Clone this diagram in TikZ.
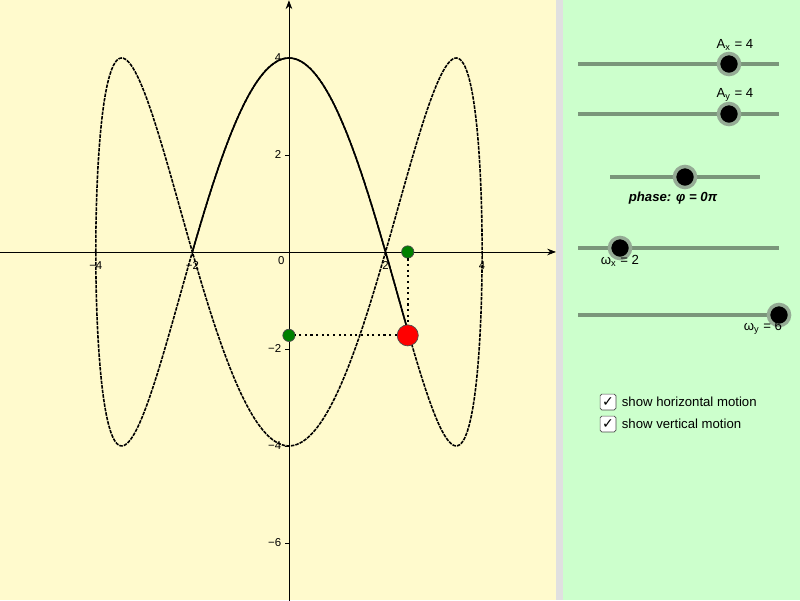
\documentclass[tikz,border=0pt]{standalone}
\usepackage{fontspec}
\setmainfont{Liberation Sans}
\newfontfamily\symfont{DejaVu Sans}
\usetikzlibrary{arrows.meta,positioning}
\definecolor{paneyellow}{HTML}{FFFACD}
\definecolor{panegreen}{HTML}{CCFFCC}
\definecolor{slidergray}{HTML}{7A967A}
\definecolor{dotgreen}{HTML}{008000}
\tikzstyle{track} = [draw=slidergray, line width=2pt]
\tikzstyle{knob} = [circle, fill=black, draw=slidergray!80, line width=2pt, inner sep=0pt, minimum size=12pt]
\tikzstyle{lbl} = [font=\fontsize{7.5}{9}\selectfont, inner sep=1pt]
\tikzstyle{tick} = [font=\fontsize{6.5}{7}\selectfont, inner sep=1pt]
\tikzstyle{tracepath} = [line width=0.9pt, dash pattern=on 2pt off 0.6pt]
\tikzstyle{check} = [draw=black!70, fill=white, rounded corners=1pt, minimum size=9pt, inner sep=0pt, font=\symfont\fontsize{8}{8}\selectfont]

\begin{document}
\begin{tikzpicture}[x=0.02cm,y=-0.02cm]
\useasboundingbox (0,0) rectangle (800,600);
\fill[paneyellow] (0,0) rectangle (556,600);
\fill[black!12] (556,0) rectangle (563,600);
\fill[panegreen] (563,0) rectangle (800,600);

% graph
\begin{scope}[shift={(5.78cm,-5.04cm)}, x=0.966cm, y=0.97cm]
\draw[-{Stealth[length=5pt]}] (-5.99,0) -- (5.53,0);
\draw[-{Stealth[length=5pt]}] (0,-7.3) -- (0,5.19);
\foreach \v/\t in {-4/−4,-2/−2,2/2,4/4}
  \draw (\v,0) -- (\v,-0.08) node[tick, below=2pt] {\t};
\foreach \v/\t in {-6/−6,-4/−4,-2/−2,2/2,4/4}
  \draw (0,\v) -- (-0.08,\v) node[tick, left=1pt] {\t};
\node[tick, below left=2pt] (o) at (0,0) {0};
\draw[tracepath] plot[domain=0:3.1416, samples=400, smooth] ({4*sin(2*\x r)}, {4*cos(6*\x r)});
\draw[line width=0.9pt] plot[domain=-0.262:0.3315, samples=100, smooth] ({4*sin(2*\x r)}, {4*cos(6*\x r)});
\node[circle, fill=red, draw=black!70, inner sep=0pt, minimum size=12pt] (p) at (2.46,-1.72) {};
\node[circle, fill=dotgreen, draw=black!70, inner sep=0pt, minimum size=7pt] (px) at (2.46,0) {};
\node[circle, fill=dotgreen, draw=black!70, inner sep=0pt, minimum size=7pt] (py) at (0,-1.72) {};
\draw[dotted, line width=1.2pt] (px) -- (p) -- (py);
\end{scope}

% sliders
\draw[track] (578,64) -- (779,64);
\node[knob] (ax) at (729,64) {};
\node[lbl] at (735,45) {A$_\mathrm{x}$ = 4};
\draw[track] (578,114) -- (779,114);
\node[knob] (ay) at (729,114) {};
\node[lbl] at (735,95) {A$_\mathrm{y}$ = 4};
\draw[track] (610,177) -- (760,177);
\node[knob] (ph) at (685,177) {};
\node[lbl, font=\fontsize{7.5}{9}\selectfont\bfseries\itshape] at (673,198) {phase: φ = 0π};
\draw[track] (578,248) -- (779,248);
\node[knob] (wx) at (620,248) {};
\node[lbl] at (620,261) {ω$_\mathrm{x}$ = 2};
\draw[track] (578,315) -- (779,315);
\node[knob] (wy) at (779,315) {};
\node[lbl] at (763,328) {ω$_\mathrm{y}$ = 6};

% checkboxes
\node[check] (c1) at (608,402) {✓};
\node[lbl, right=2pt of c1] {show horizontal motion};
\node[check] (c2) at (608,424) {✓};
\node[lbl, right=2pt of c2] {show vertical motion};
\end{tikzpicture}
\end{document}
